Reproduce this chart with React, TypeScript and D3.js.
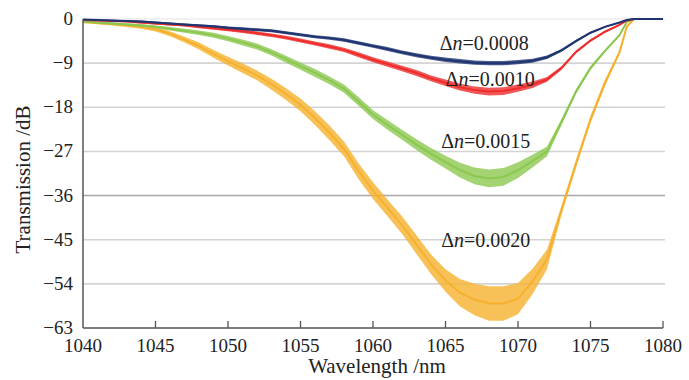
import React from 'react'
import * as d3 from 'd3'

// wavelength grid (nm)
const wavelengths = [
	1040, 1041, 1042, 1043, 1044, 1045, 1046, 1047, 1048, 1049, 1050, 1051, 1052, 1053, 1054, 1055, 1056,
	1057, 1058, 1059, 1060, 1061, 1062, 1063, 1064, 1065, 1066, 1067, 1068, 1069, 1070, 1071, 1072, 1073,
	1074, 1075, 1076, 1077, 1077.5, 1078, 1079, 1080,
]

// transmission (dB) for each index change
const dn0008 = [
	-0.1, -0.2, -0.3, -0.4, -0.5, -0.7, -0.9, -1.1, -1.3, -1.5, -1.8, -2.0, -2.2, -2.4, -2.8, -3.2, -3.6,
	-3.9, -4.3, -4.9, -5.5, -6.1, -6.8, -7.4, -7.9, -8.3, -8.6, -8.9, -9.0, -9.0, -8.8, -8.5, -7.8, -6.4,
	-4.5, -2.8, -1.6, -0.7, -0.2, 0, 0, 0,
]
const dn0010 = [
	-0.2, -0.3, -0.4, -0.5, -0.7, -0.9, -1.1, -1.3, -1.6, -1.9, -2.2, -2.5, -2.9, -3.3, -3.8, -4.4, -5.0,
	-5.6, -6.3, -7.3, -8.3, -9.2, -10.1, -11.0, -12.1, -13.0, -13.9, -14.5, -14.8, -14.7, -14.1, -13.4,
	-12.3, -10.0, -6.7, -4.4, -2.6, -1.2, -0.3, 0, 0, 0,
]
const dn0015 = [
	-0.5, -0.7, -0.9, -1.1, -1.3, -1.6, -2.0, -2.4, -2.8, -3.3, -4.0, -4.8, -5.6, -6.8, -8.2, -9.6, -11.0,
	-12.5, -14.2, -16.8, -19.5, -21.6, -23.6, -25.6, -27.5, -29.2, -30.8, -32.0, -32.5, -32.2, -30.8,
	-29.0, -27.0, -21.0, -14.8, -10.0, -6.5, -3.3, -0.6, 0, 0, 0,
]
const dn0020 = [
	-0.6, -0.8, -1.0, -1.3, -1.6, -2.1, -3.0, -4.2, -5.5, -7.1, -8.6, -10.0, -11.5, -13.3, -15.3, -17.5,
	-20.2, -23.2, -26.5, -31.0, -35.0, -38.5, -42.0, -46.0, -50.0, -53.3, -55.8, -57.2, -58.0, -58.0,
	-57.0, -53.5, -49.0, -39.0, -29.5, -20.5, -13.0, -6.8, -1.6, 0, 0, 0,
]

// half-width of the ripple band (dB)
const ripple0008 = [
	0.1, 0.1, 0.15, 0.15, 0.2, 0.2, 0.2, 0.2, 0.25, 0.25, 0.25, 0.3, 0.3, 0.3, 0.3, 0.3, 0.3, 0.35, 0.35,
	0.35, 0.35, 0.4, 0.4, 0.4, 0.4, 0.45, 0.45, 0.45, 0.45, 0.45, 0.45, 0.4, 0.35, 0.3, 0.25, 0.2, 0.15,
	0.1, 0.1, 0.05, 0.05, 0.05,
]
const ripple0010 = [
	0.1, 0.1, 0.15, 0.15, 0.2, 0.2, 0.25, 0.25, 0.3, 0.3, 0.3, 0.35, 0.35, 0.35, 0.4, 0.4, 0.4, 0.45,
	0.45, 0.5, 0.5, 0.55, 0.55, 0.6, 0.6, 0.65, 0.7, 0.75, 0.8, 0.8, 0.75, 0.65, 0.5, 0.35, 0.3, 0.25,
	0.2, 0.15, 0.1, 0.05, 0.05, 0.05,
]
const ripple0015 = [
	0.15, 0.2, 0.2, 0.25, 0.3, 0.3, 0.35, 0.4, 0.45, 0.5, 0.55, 0.6, 0.6, 0.65, 0.7, 0.75, 0.8, 0.8,
	0.85, 0.9, 0.9, 1.0, 1.0, 1.1, 1.2, 1.3, 1.5, 1.7, 1.8, 1.8, 1.6, 1.3, 1.0, 0.6, 0.5, 0.4, 0.3, 0.2,
	0.1, 0.05, 0.05, 0.05,
]
const ripple0020 = [
	0.2, 0.25, 0.3, 0.35, 0.4, 0.45, 0.5, 0.6, 0.7, 0.8, 0.9, 1.0, 1.0, 1.1, 1.2, 1.3, 1.4, 1.5, 1.5,
	1.6, 1.7, 1.7, 1.8, 1.9, 2.0, 2.3, 2.8, 3.2, 3.5, 3.5, 3.2, 2.6, 2.0, 0.9, 0.8, 0.7, 0.6, 0.4, 0.2,
	0.05, 0.05, 0.05,
]

const xTicks = [1040, 1045, 1050, 1055, 1060, 1065, 1070, 1075, 1080]
const yTicks = [0, -9, -18, -27, -36, -45, -54, -63]

const series = [
	{ name: '0.0020', values: dn0020, ripple: ripple0020, color: '#f5b12e', label: [1064.7, -46.5] },
	{ name: '0.0015', values: dn0015, ripple: ripple0015, color: '#8cc850', label: [1064.7, -26.3] },
	{ name: '0.0010', values: dn0010, ripple: ripple0010, color: '#ee2d2d', label: [1065.0, -13.7] },
	{ name: '0.0008', values: dn0008, ripple: ripple0008, color: '#1f3470', label: [1064.6, -6.4] },
]

const W = 689,
	H = 380
const left = 83,
	right = 663,
	top = 19,
	bottom = 328

const App = () => {
	const x = d3.scaleLinear().domain([1040, 1080]).range([left, right])
	const y = d3.scaleLinear().domain([0, -63]).range([top, bottom])

	const font = "'Liberation Serif', 'DejaVu Serif', serif"

	return (
		<svg width={W} height={H} style={{ position: 'absolute', left: 0, top: 0, background: '#fff' }}>
			{/* gridlines */}
			{yTicks.slice(0, -1).map((t) => (
				<line
					key={t}
					x1={left}
					x2={right + 2}
					y1={y(t)}
					y2={y(t)}
					stroke={t === -36 ? '#a9a9a9' : t === 0 ? '#ececec' : '#d4d4d4'}
					strokeWidth={1.6}
				/>
			))}

			{series.map((s) => {
				const pts = wavelengths.map((w, i) => ({ w, v: s.values[i], r: s.ripple[i] }))
				const area = d3
					.area<{ w: number; v: number; r: number }>()
					.x((d) => x(d.w))
					.y0((d) => y(Math.min(0, d.v + d.r)))
					.y1((d) => y(d.v - d.r))
				const line = d3
					.line<{ w: number; v: number; r: number }>()
					.x((d) => x(d.w))
					.y((d) => y(d.v))
				return (
					<g key={s.name}>
						<path d={area(pts)!} fill={s.color} opacity={0.8} />
						<path d={line(pts)!} fill="none" stroke={s.color} strokeWidth={2} />
					</g>
				)
			})}

			{/* axes */}
			<line x1={left} x2={left} y1={top} y2={bottom} stroke="#555" strokeWidth={1.5} />
			<line x1={left} x2={right} y1={bottom} y2={bottom} stroke="#555" strokeWidth={1.6} />
			{xTicks.slice(1).map((t) => (
				<line key={t} x1={x(t)} x2={x(t)} y1={bottom} y2={bottom - 7} stroke="#555" strokeWidth={1.3} />
			))}

			{yTicks.map((t) => (
				<text key={t} x={left - 10} y={y(t) + 6} textAnchor="end" fontFamily={font} fontSize={19} fill="#222">
					{t === 0 ? '0' : '\u2212' + Math.abs(t)}
				</text>
			))}
			{xTicks.map((t) => (
				<text key={t} x={x(t)} y={bottom + 24} textAnchor="middle" fontFamily={font} fontSize={19} fill="#222">
					{t}
				</text>
			))}

			<text x={(left + right) / 2 + 4} y={373} textAnchor="middle" fontFamily={font} fontSize={21} fill="#222">
				Wavelength /nm
			</text>
			<text
				transform={`translate(30, ${(top + bottom) / 2 + 6}) rotate(-90)`}
				textAnchor="middle"
				fontFamily={font}
				fontSize={21}
				fill="#222"
			>
				Transmission /dB
			</text>

			{series.map((s) => (
				<text key={s.name} x={x(s.label[0])} y={y(s.label[1])} fontFamily={font} fontSize={20} fill="#222">
					Δ<tspan fontStyle="italic">n</tspan>={s.name}
				</text>
			))}
		</svg>
	)
}

export default App
